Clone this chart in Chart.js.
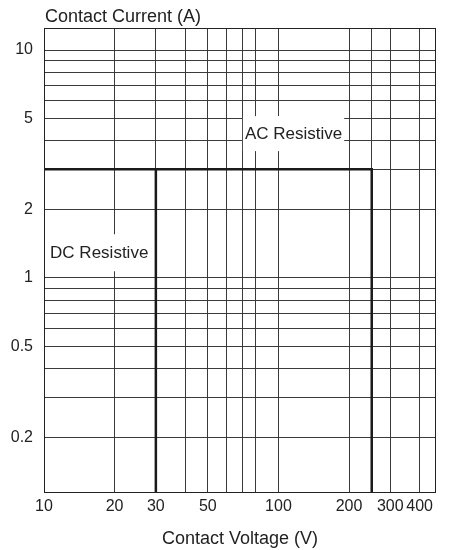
<!DOCTYPE html>
<html>
<head>
<meta charset="utf-8">
<script src="https://cdn.jsdelivr.net/npm/chart.js@4.4.1/dist/chart.umd.min.js"></script>
<style>
    html, body { margin: 0; padding: 0; background: #fff; }
    #wrap { width: 449px; height: 550px; position: relative; }
</style>
</head>
<body>
<div id="wrap"><canvas id="chart"></canvas></div>
<script>
// Axis ranges
const voltageMin = 10;
const voltageMax = 470;
const currentMin = 0.115;
const currentMax = 12.5;

// Grid lines and the ticks that carry a label
const voltageGrid = [10, 20, 30, 40, 50, 60, 70, 80, 100, 200, 250, 300, 400];
const voltageLabels = [10, 20, 30, 50, 100, 200, 300, 400];
const currentGrid = [0.2, 0.3, 0.4, 0.5, 0.6, 0.7, 0.8, 0.9, 1, 2, 3, 4, 5, 6, 7, 8, 9, 10];
const currentLabels = [0.2, 0.5, 1, 2, 5, 10];

// Boundary of the DC and AC resistive load areas
const dcVoltage = [10, 30, 30];
const dcCurrent = [3, 3, currentMin];
const acVoltage = [30, 250, 250];
const acCurrent = [3, 3, currentMin];

const areaNames = ['DC Resistive', 'AC Resistive'];

const FONT = '"Liberation Sans", Arial, Helvetica, sans-serif';
const INK = '#222';

const toPoints = (xs, ys) => xs.map((v, i) => ({ x: v, y: ys[i] }));

// Area names with a white box behind them (drawn under the boundary lines),
// then the frame and the y axis title on top
const chartDecor = {
    id: 'chartDecor',
    // where the names sit, in volts / amps
    anchors: [{ v: 17.2, a: 1.29, padX: 3, h: 37 }, { v: 116, a: 4.3, padX: 2, h: 35 }],
    beforeDatasetsDraw(chart) {
        const { ctx, scales: { x, y } } = chart;
        ctx.save();
        ctx.font = '17px ' + FONT;
        ctx.textBaseline = 'middle';
        ctx.textAlign = 'center';
        areaNames.forEach((name, i) => {
            const a = this.anchors[i];
            const px = x.getPixelForValue(a.v);
            const py = y.getPixelForValue(a.a);
            const w = ctx.measureText(name).width + a.padX * 2;
            ctx.fillStyle = '#fff';
            ctx.fillRect(px - w / 2, py - a.h / 2, w, a.h);
            ctx.fillStyle = INK;
            ctx.fillText(name, px, py + 1);
        });
        ctx.restore();
    },
    afterDraw(chart) {
        const { ctx, chartArea: area } = chart;
        ctx.save();
        ctx.strokeStyle = INK;
        ctx.lineWidth = 1;
        ctx.strokeRect(Math.round(area.left) + 0.5, Math.round(area.top) + 0.5,
            Math.round(area.right - area.left) - 1, Math.round(area.bottom - area.top));

        ctx.font = '18px ' + FONT;
        ctx.fillStyle = INK;
        ctx.textBaseline = 'middle';
        ctx.textAlign = 'left';
        ctx.fillText('Contact Current (A)', area.left + 1, 17);
        ctx.restore();
    }
};

const lineStyle = {
    borderColor: '#1a1a1a',
    borderWidth: 2.5,
    pointRadius: 0,
    tension: 0,
    fill: false
};

new Chart(document.getElementById('chart'), {
    type: 'line',
    data: {
        datasets: [
            Object.assign({ label: 'DC', data: toPoints(dcVoltage, dcCurrent) }, lineStyle),
            Object.assign({ label: 'AC', data: toPoints(acVoltage, acCurrent) }, lineStyle)
        ]
    },
    options: {
        responsive: true,
        maintainAspectRatio: false,
        animation: false,
        layout: { padding: { top: 28, right: 13, left: 0, bottom: 0 } },
        plugins: {
            legend: { display: false },
            tooltip: { enabled: false }
        },
        scales: {
            x: {
                type: 'logarithmic',
                min: voltageMin,
                max: voltageMax,
                border: { display: false },
                grid: { color: '#3a3a3a', lineWidth: 1, drawTicks: false },
                afterBuildTicks: (scale) => {
                    scale.ticks = voltageGrid.map(v => ({ value: v }));
                },
                afterFit: (scale) => { scale.height = 58; },
                ticks: {
                    autoSkip: false,
                    maxRotation: 0,
                    padding: 5,
                    color: INK,
                    font: { family: FONT, size: 16 },
                    callback: (value) => voltageLabels.includes(value) ? String(value) : ''
                },
                title: {
                    display: true,
                    text: 'Contact Voltage (V)',
                    color: INK,
                    font: { family: FONT, size: 18 },
                    padding: { top: 0, bottom: 0 }
                }
            },
            y: {
                type: 'logarithmic',
                min: currentMin,
                max: currentMax,
                border: { display: false },
                grid: { color: '#3a3a3a', lineWidth: 1, drawTicks: false },
                afterBuildTicks: (scale) => {
                    scale.ticks = currentGrid.map(v => ({ value: v }));
                },
                afterFit: (scale) => { scale.width = 44; },
                ticks: {
                    autoSkip: false,
                    padding: 11,
                    color: INK,
                    font: { family: FONT, size: 16 },
                    callback: (value) => currentLabels.includes(value) ? String(value) : ''
                }
            }
        }
    },
    plugins: [chartDecor]
});
</script>
</body>
</html>
